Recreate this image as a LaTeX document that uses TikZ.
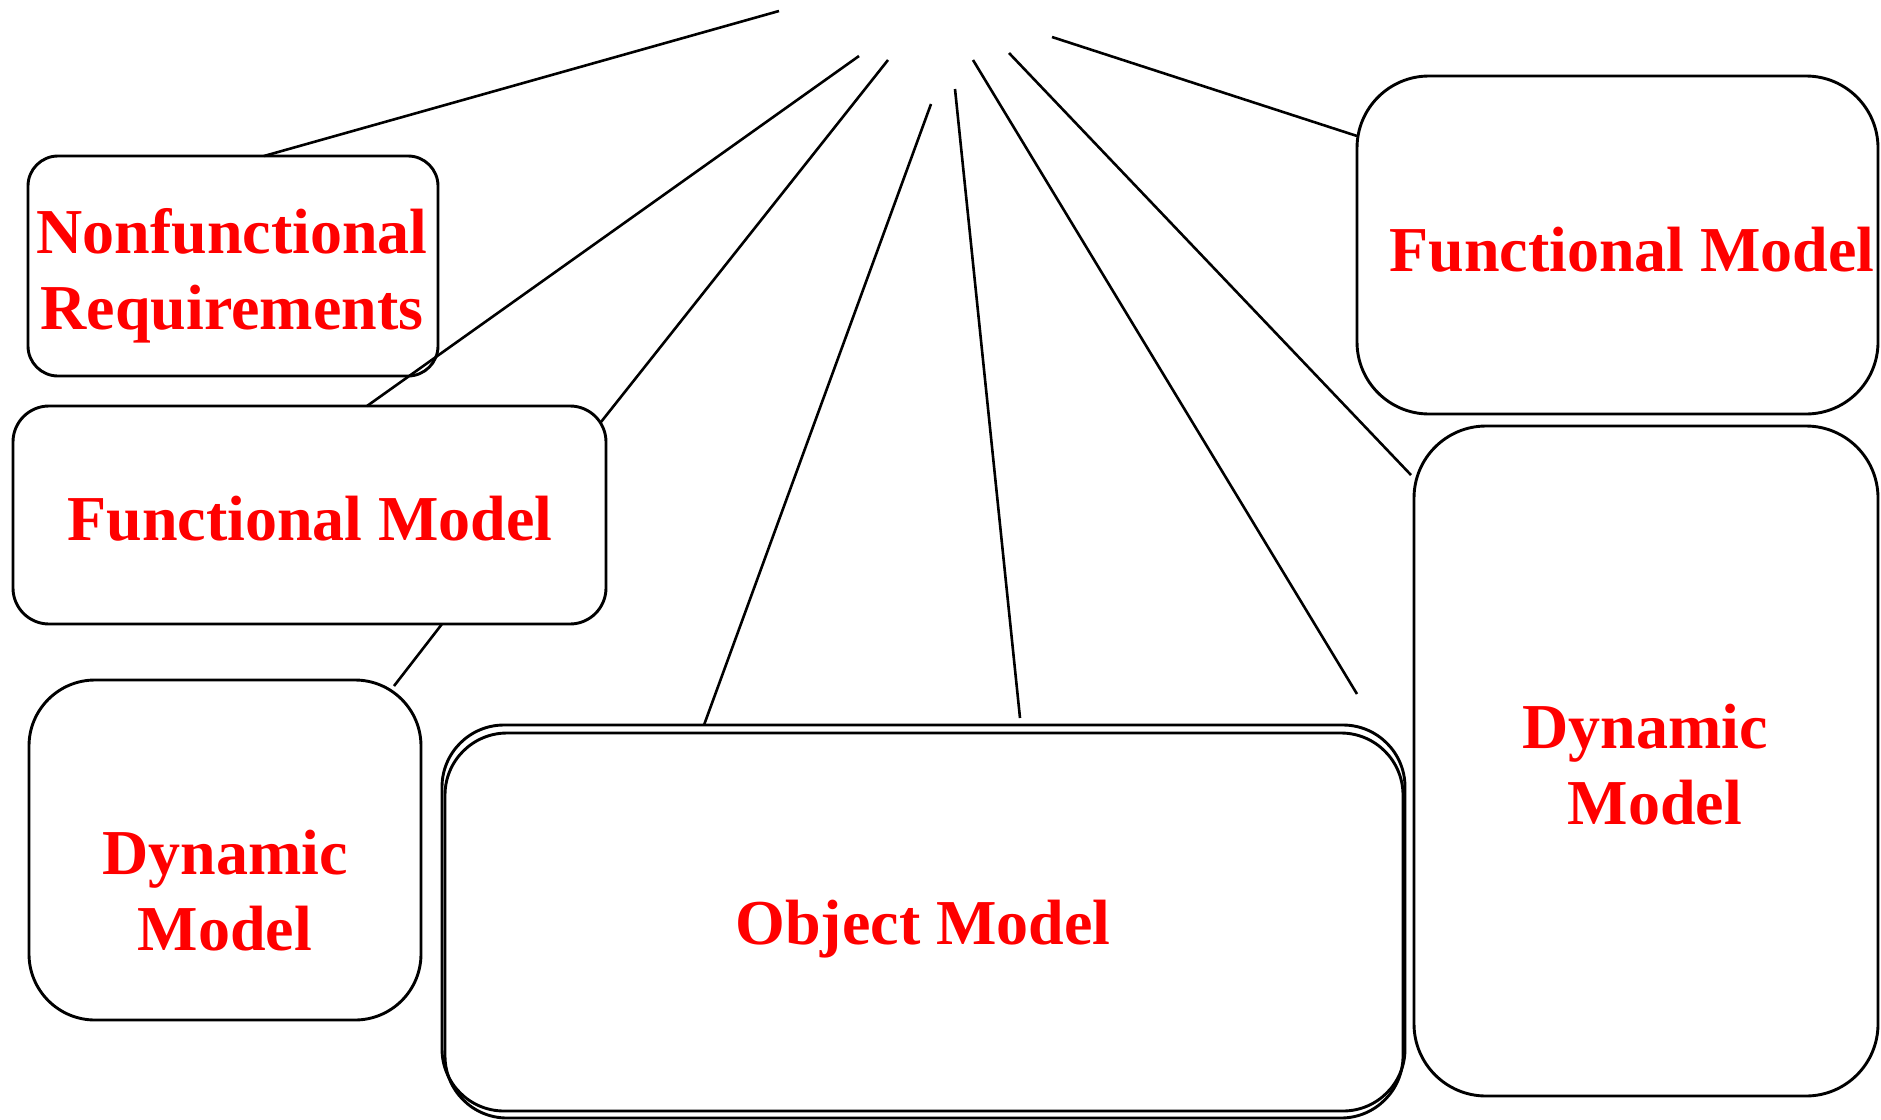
\documentclass[tikz,border=0pt]{standalone}
\usepackage{fontspec}
\setmainfont{Liberation Serif}
\definecolor{lblred}{RGB}{255,0,0}
\begin{document}
\begin{tikzpicture}[x=1pt,y=-1pt,
  box/.style={draw, line width=2.9pt, rounded corners=#1, inner sep=0pt, outer sep=0pt},
  lbl/.style={text=lblred, font=\fontsize{64}{76}\selectfont\bfseries, align=center, inner sep=0pt},
  conn/.style={line width=2.6pt}]
\useasboundingbox (0,0) rectangle (1881,1119);
% boxes
\node[box=30pt, minimum width=410pt, minimum height=220pt] (nfr) at (233,266) {};
\node[box=36pt, minimum width=593pt, minimum height=218pt] (fml) at (309.5,515) {};
\node[box=66pt, minimum width=392pt, minimum height=340pt] (dyl) at (225,850) {};
\node[box=62pt, minimum width=963pt, minimum height=386pt] (objo) at (923.5,918) {};
\node[box=62pt, minimum width=958pt, minimum height=385pt] (obji) at (924,925.5) {};
\node[box=72pt, minimum width=521pt, minimum height=338pt] (fmr) at (1617.5,245) {};
\node[box=72pt, minimum width=464pt, minimum height=670pt] (dyr) at (1646,761) {};
% labels
\node[lbl] (tnfr) at (232,276) {Nonfunctional\\Requirements};
\node[lbl] (tfml) at (310,519) {Functional Model};
\node[lbl] (tdyl) at (225,891) {Dynamic\\Model};
\node[lbl] (tobj) at (923,929) {Object Model};
\node[lbl] (tfmr) at (1632,250) {Functional Model};
\node[lbl] (tdyr) at (1645,765) {Dynamic\\\hspace*{20pt}Model};
% free ends
\coordinate (t1) at (779,11);
\coordinate (t2) at (859,56);
\coordinate (t3) at (888,60);
\coordinate (t4) at (931,104);
\coordinate (t5) at (955,89);
\coordinate (t6) at (973,60);
\coordinate (t7) at (1009,53);
\coordinate (t8) at (1052,37);
\coordinate (e1) at (264,156);
\coordinate (e2) at (367,406);
\coordinate (e3) at (601,422);
\coordinate (e4) at (704,725);
\coordinate (e5) at (1020,718);
\coordinate (e6) at (1357,694);
\coordinate (e7) at (1411,475);
\coordinate (e8) at (1357,136);
\coordinate (f9) at (442,624);
\coordinate (e9) at (394,686);
% connectors
\draw[conn] (t1) -- (e1);
\draw[conn] (t2) -- (e2);
\draw[conn] (t3) -- (e3);
\draw[conn] (t4) -- (e4);
\draw[conn] (t5) -- (e5);
\draw[conn] (t6) -- (e6);
\draw[conn] (t7) -- (e7);
\draw[conn] (t8) -- (e8);
\draw[conn] (f9) -- (e9);
\end{tikzpicture}
\end{document}
